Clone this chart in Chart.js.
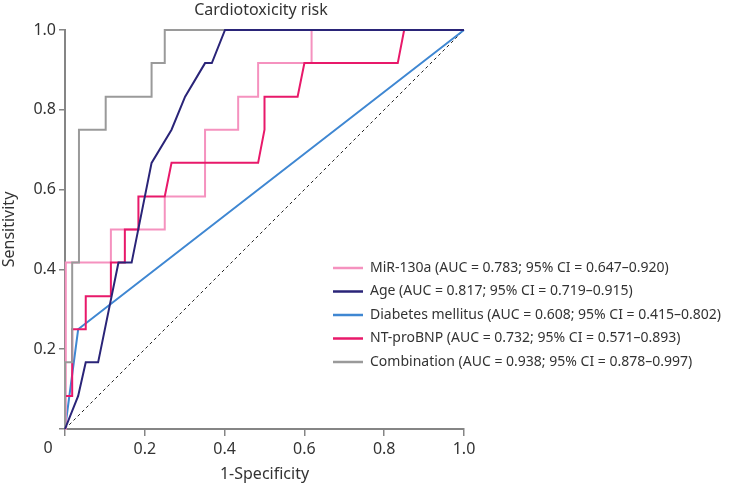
<!DOCTYPE html>
<html>
<head>
<meta charset="utf-8">
<script src="https://cdn.jsdelivr.net/npm/chart.js@4.4.1/dist/chart.umd.min.js"></script>
<style>
  html, body { margin: 0; padding: 0; background: #fff; }
  #wrap { width: 733px; height: 486px; }
</style>
</head>
<body>
<div id="wrap"><canvas id="rocChart" width="733" height="486"></canvas></div>
<script>
// ROC curves (1-specificity, sensitivity)
const mirFpr = [0, 0.002, 0.115, 0.115, 0.25, 0.25, 0.351, 0.351, 0.434, 0.434, 0.484, 0.484, 0.618, 0.618, 1];
const mirTpr = [0, 0.417, 0.417, 0.5, 0.5, 0.583, 0.583, 0.75, 0.75, 0.833, 0.833, 0.917, 0.917, 1, 1];

const ageFpr = [0, 0.033, 0.052, 0.083, 0.134, 0.167, 0.217, 0.267, 0.301, 0.351, 0.368, 0.401, 1];
const ageTpr = [0, 0.083, 0.167, 0.167, 0.417, 0.417, 0.667, 0.75, 0.833, 0.917, 0.917, 1, 1];

const dmFpr = [0, 0.033, 1];
const dmTpr = [0, 0.25, 1];

const ntFpr = [0, 0, 0.018, 0.018, 0.052, 0.052, 0.115, 0.115, 0.15, 0.15, 0.184, 0.184, 0.25, 0.267, 0.484, 0.5, 0.5, 0.583, 0.6, 0.834, 0.85, 1];
const ntTpr = [0, 0.083, 0.083, 0.25, 0.25, 0.333, 0.333, 0.417, 0.417, 0.5, 0.5, 0.583, 0.583, 0.667, 0.667, 0.75, 0.833, 0.833, 0.917, 0.917, 1, 1];

const combFpr = [0, 0, 0.018, 0.018, 0.035, 0.035, 0.102, 0.102, 0.217, 0.217, 0.25, 0.25, 1];
const combTpr = [0, 0.167, 0.167, 0.417, 0.417, 0.75, 0.75, 0.833, 0.833, 0.917, 0.917, 1, 1];

const refFpr = [0, 1];
const refTpr = [0, 1];

const seriesLabels = [
  'MiR-130a (AUC = 0.783; 95% CI = 0.647\u20130.920)',
  'Age (AUC = 0.817; 95% CI = 0.719\u20130.915)',
  'Diabetes mellitus (AUC = 0.608; 95% CI = 0.415\u20130.802)',
  'NT-proBNP (AUC = 0.732; 95% CI = 0.571\u20130.893)',
  'Combination (AUC = 0.938; 95% CI = 0.878\u20130.997)'
];
const seriesColors = ['#f592bf', '#2a2478', '#3f87d2', '#e8196a', '#9a9a9a'];
const tickValues = [0, 0.2, 0.4, 0.6, 0.8, 1.0];

function toPoints(xs, ys) {
  return xs.map((x, i) => ({ x: x, y: ys[i] }));
}

const FONT = '"Noto Sans", "Open Sans", sans-serif';
const TEXT = '#333333';
const AXIS = '#858585';

const curves = [
  toPoints(mirFpr, mirTpr),
  toPoints(ageFpr, ageTpr),
  toPoints(dmFpr, dmTpr),
  toPoints(ntFpr, ntTpr),
  toPoints(combFpr, combTpr)
];
const drawOrder = [4, 1, 5, 3, 2]; // higher = drawn underneath

const datasets = curves.map((pts, i) => ({
  label: seriesLabels[i],
  data: pts,
  borderColor: seriesColors[i],
  borderWidth: 2,
  pointRadius: 0,
  tension: 0,
  clip: false,
  order: drawOrder[i]
}));
datasets.push({
  label: 'reference',
  data: toPoints(refFpr, refTpr),
  borderColor: '#222',
  borderWidth: 1,
  borderDash: [3, 3],
  pointRadius: 0,
  order: 6
});

// title, corner "0" and legend drawn over the plot
const extras = {
  id: 'extras',
  afterDraw(chart) {
    const ctx = chart.ctx;
    const area = chart.chartArea;
    const xs = chart.scales.x;
    ctx.save();
    ctx.fillStyle = TEXT;
    ctx.textBaseline = 'middle';
    ctx.textAlign = 'center';
    ctx.font = '16px ' + FONT;
    ctx.fillText('Cardiotoxicity risk', 261, 10);
    ctx.fillText('0', xs.getPixelForValue(0) - 17, 448);

    ctx.textAlign = 'left';
    ctx.font = '14px ' + FONT;
    const lx = 333, ly = 268, gap = 23.5;
    seriesLabels.forEach((lab, i) => {
      const y = ly + i * gap;
      ctx.strokeStyle = seriesColors[i];
      ctx.lineWidth = 2.5;
      ctx.beginPath();
      ctx.moveTo(lx, y);
      ctx.lineTo(lx + 30, y);
      ctx.stroke();
      ctx.fillStyle = TEXT;
      ctx.fillText(lab, lx + 37, y);
    });
    ctx.restore();
  }
};

new Chart(document.getElementById('rocChart'), {
  type: 'line',
  data: { datasets: datasets },
  plugins: [extras],
  options: {
    responsive: false,
    animation: false,
    layout: { padding: { left: 0, top: 30, right: 269, bottom: 0 } },
    plugins: { legend: { display: false }, tooltip: { enabled: false } },
    scales: {
      x: {
        type: 'linear',
        min: 0, max: 1,
        afterBuildTicks: (s) => { s.ticks = tickValues.map(v => ({ value: v })); },
        afterFit: (s) => { s.height = 57; },
        ticks: {
          color: TEXT,
          font: { family: FONT, size: 16 },
          padding: 4,
          maxRotation: 0,
          callback: (v) => v === 0 ? '' : v.toFixed(1)
        },
        grid: { drawOnChartArea: false, drawTicks: true, tickLength: 7, color: AXIS, lineWidth: 1.5 },
        border: { display: true, color: AXIS, width: 2 },
        title: { display: true, text: '1-Specificity', color: TEXT, font: { family: FONT, size: 16 }, padding: { top: 2, bottom: 2 } }
      },
      y: {
        type: 'linear',
        min: 0, max: 1,
        afterBuildTicks: (s) => { s.ticks = tickValues.map(v => ({ value: v })); },
        afterFit: (s) => { s.width = 65; },
        ticks: {
          color: TEXT,
          font: { family: FONT, size: 16 },
          padding: 3,
          callback: (v) => v === 0 ? '' : v.toFixed(1)
        },
        grid: { drawOnChartArea: false, drawTicks: true, tickLength: 6, color: AXIS, lineWidth: 1.5 },
        border: { display: true, color: AXIS, width: 2 },
        title: { display: true, text: 'Sensitivity', color: TEXT, font: { family: FONT, size: 16 }, padding: { top: 0, bottom: 0 } }
      }
    }
  }
});
</script>
</body>
</html>
